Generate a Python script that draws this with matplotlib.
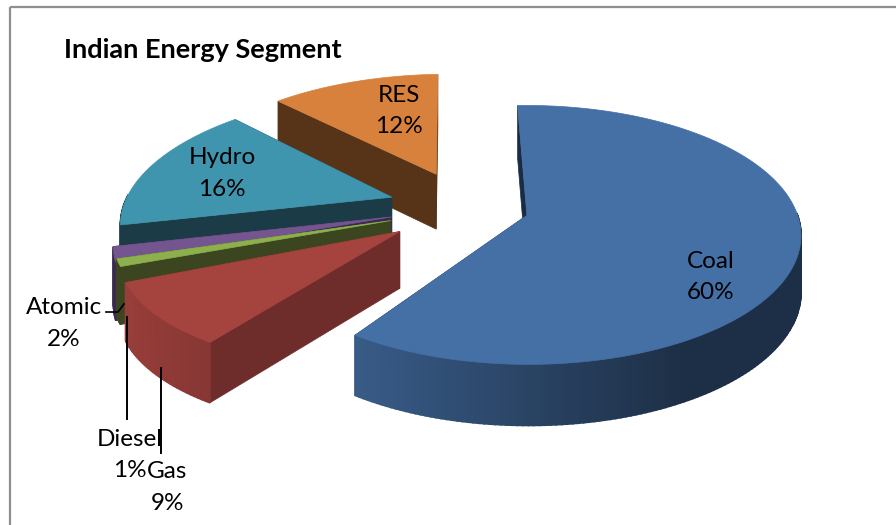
import numpy as np
import matplotlib
matplotlib.use("Agg")
import matplotlib.pyplot as plt
from matplotlib.patches import Polygon, Rectangle

# slices, clockwise from 12 o'clock
labels = ["Coal", "Gas", "Diesel", "Atomic", "Hydro", "RES"]
values = [60, 9, 1, 2, 16, 12]
explode = [0.24, 0.30, 0.29, 0.28, 0.29, 0.30]
flatten = [1.0, 0.9, 0.85, 1.0, 1.0, 1.0]
top_colors = ["#4570a6", "#a5433f", "#8db04d", "#74558f", "#4095ae", "#d8813c"]
side_colors = ["#1a2c45", "#6e2c2b", "#3b4520", "#3a2a50", "#1b3b47", "#573417"]
graded_wall = [True, True, False, False, False, False]

# pie geometry in pixels
cx, cy = 465, 207
rx, ry = 268, 124
persp = 0.15
skew = 8
depth = 56
start_angle = -2

plt.rcParams["font.family"] = ["Lato", "DejaVu Sans"]
fig = plt.figure(figsize=(8.96, 5.25), dpi=100)
ax = fig.add_axes([0, 0, 1, 1])
ax.set_xlim(0, 896)
ax.set_ylim(525, 0)
ax.axis("off")


def project(u, v, z=0.0):
    w = 1 + persp * v
    return cx + (rx * u + skew * v) / w, cy - ry * v / w + z * depth / np.sqrt(w)


def shade(color, factor):
    rgb = np.array(matplotlib.colors.to_rgb(color))
    return tuple(np.clip(rgb * factor, 0, 1))


def draw_slice(theta0, theta1, e, flat, top, side, graded):
    mid = np.radians((theta0 + theta1) / 2)
    au, av = e * np.sin(mid), e * np.cos(mid)
    thetas = np.radians(np.arange(theta0, theta1 + 0.5, 1.0))
    us = au + np.sin(thetas)
    vs = av + flat * np.cos(thetas)

    # cut faces, the one further back first
    faces = [(us[0], vs[0]), (us[-1], vs[-1])]
    faces.sort(key=lambda p: -p[1])
    for u, v in faces:
        pts = [project(au, av), project(u, v), project(u, v, 1), project(au, av, 1)]
        ax.add_patch(Polygon(pts, closed=True, fc=side, ec=side, lw=0.5))

    # outer wall, front half only, shading follows the angle
    for i in range(len(thetas) - 1):
        if np.cos(thetas[i]) > 0.02:
            continue
        pts = [project(us[i], vs[i]), project(us[i + 1], vs[i + 1]),
               project(us[i + 1], vs[i + 1], 1), project(us[i], vs[i], 1)]
        f = np.interp(np.sin(thetas[i]), [-1, -0.56, 0.5], [0.95, 0.82, 0.42])
        c = shade(top, f) if graded else side
        ax.add_patch(Polygon(pts, closed=True, fc=c, ec=c, lw=1.2))

    pts = [project(au, av)] + [project(u, v) for u, v in zip(us, vs)]
    ax.add_patch(Polygon(pts, closed=True, fc=top, ec=top, lw=0.5))


edges = start_angle + np.cumsum([0] + values) * 3.6
for i in reversed(range(len(values))):
    draw_slice(edges[i], edges[i + 1], explode[i], flatten[i],
               top_colors[i], side_colors[i], graded_wall[i])

# chart frame
ax.add_patch(Rectangle((9.5, 6.5), 900, 530, fill=False, ec="#8f8f8f", lw=1.6))

ax.text(64, 50, "Indian Energy Segment", fontsize=19.5, fontweight="bold",
        ha="left", va="center", color="black")

# data labels
label_pos = {"Coal": (711, 261), "Gas": (167, 472), "Diesel": (130, 439),
             "Atomic": (64, 308), "Hydro": (222, 158), "RES": (399, 95)}
for name, val in zip(labels, values):
    x, y = label_pos[name]
    ax.text(x, y, name, fontsize=17.5, ha="center", va="center", color="black")
    ax.text(x, y + 31.5, f"{val}%", fontsize=17.5, ha="center", va="center", color="black")

# leader lines
ax.plot([106, 118, 124], [312, 312, 304], color="black", lw=1.2)
ax.plot([127, 127], [317, 419], color="black", lw=1.4)
ax.plot([161, 161], [368, 453], color="black", lw=1.4)

fig.savefig("out.png", dpi=100)
